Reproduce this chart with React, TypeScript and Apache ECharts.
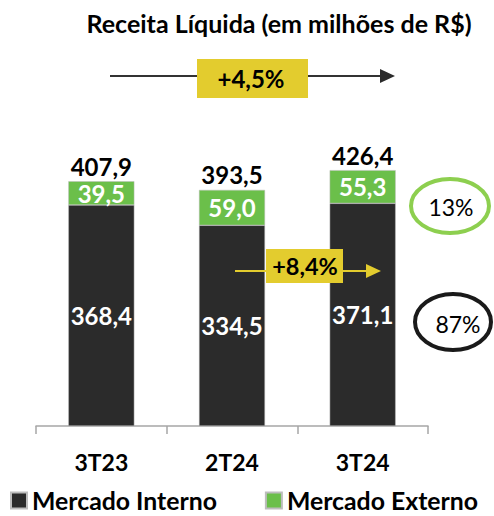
import React, { useEffect, useRef } from "react";
import * as echarts from "echarts";

const categories = ["3T23", "2T24", "3T24"];
const mercadoInterno = [368.4, 334.5, 371.1];
const mercadoExterno = [39.5, 59.0, 55.3];
const seriesNames = ["Mercado Interno", "Mercado Externo"];

const FONT = "Lato, 'Open Sans', sans-serif";
const fmt = (v: number) => v.toFixed(1).replace(".", ",");

export default function App() {
  const ref = useRef<HTMLDivElement>(null);
  useEffect(() => {
    if (!ref.current) return;
    const chart = echarts.init(ref.current, null, { renderer: "svg" });
    const totals = mercadoInterno.map((v, i) => +(v + mercadoExterno[i]).toFixed(1));
    const last = totals.length - 1;
    const growthYoY = (totals[last] / totals[0] - 1) * 100;
    const growthQoQ = (totals[last] / totals[last - 1] - 1) * 100;
    const shareExt = Math.round((mercadoExterno[last] / totals[last]) * 100);
    const shareInt = 100 - shareExt;
    const pct = (v: number) => "+" + v.toFixed(1).replace(".", ",") + "%";

    const numLabel = (pos: string, color: string) => ({
      show: true,
      position: pos,
      color,
      fontFamily: FONT,
      fontWeight: "bold",
      fontSize: 24,
      formatter: (p: any) => fmt(p.value),
    });

    chart.setOption({
      animation: false,
      grid: { left: 36, right: 66, top: 126, bottom: 90 },
      legend: {
        data: seriesNames,
        left: 10,
        top: 488,
        padding: 0,
        icon: "rect",
        itemWidth: 16,
        itemHeight: 16,
        itemGap: 48,
        textStyle: { fontFamily: FONT, fontWeight: "bold", fontSize: 24.8, color: "#000", lineHeight: 24 },
      },
      xAxis: {
        type: "category",
        data: categories,
        axisLine: { lineStyle: { color: "#A6A6A6", width: 1.5 } },
        axisTick: { show: true, length: 8, lineStyle: { color: "#A6A6A6", width: 1.5 } },
        axisLabel: { margin: 24, fontFamily: FONT, fontWeight: "bold", fontSize: 23, color: "#000" },
      },
      yAxis: { type: "value", min: 0, max: 500, show: false, splitLine: { show: false } },
      series: [
        {
          name: seriesNames[0],
          type: "bar",
          stack: "total",
          barWidth: 66,
          data: mercadoInterno,
          itemStyle: { color: "#2B2B2B", borderColor: "#BDBDBD", borderWidth: 0.5 },
          label: numLabel("inside", "#fff"),
        },
        {
          name: seriesNames[1],
          type: "bar",
          stack: "total",
          barWidth: 66,
          data: mercadoExterno,
          itemStyle: { color: "#6BBF4A", borderColor: "#BDBDBD", borderWidth: 0.5 },
          label: numLabel("inside", "#fff"),
        },
        {
          name: "Total",
          type: "bar",
          barWidth: 66,
          barGap: "-100%",
          silent: true,
          data: totals,
          itemStyle: { color: "rgba(0,0,0,0)" },
          label: { ...numLabel("top", "#000"), distance: 3 },
          z: 1,
        },
      ],
      graphic: [
        {
          type: "text",
          x: 279,
          y: 23,
          style: {
            text: "Receita Líquida (em milhões de R$)",
            fontFamily: FONT,
            fontWeight: "bold",
            fontSize: 25,
            fill: "#000",
            textAlign: "center",
            textVerticalAlign: "middle",
          },
        },
        // top arrow
        { type: "line", shape: { x1: 110, y1: 76, x2: 382, y2: 76 }, style: { stroke: "#333", lineWidth: 2 } },
        { type: "polygon", shape: { points: [[380, 69], [395, 76], [380, 83]] }, style: { fill: "#2B2B2B" } },
        { type: "rect", shape: { x: 197, y: 59, width: 111, height: 39 }, style: { fill: "#E3CC2E" } },
        {
          type: "text",
          x: 251,
          y: 78.5,
          style: {
            text: pct(growthYoY),
            fontFamily: FONT,
            fontWeight: "bold",
            fontSize: 24,
            fill: "#000",
            textAlign: "center",
            textVerticalAlign: "middle",
          },
        },
        // second arrow
        { type: "line", z: 10, shape: { x1: 235, y1: 271, x2: 368, y2: 271 }, style: { stroke: "#E3CC2E", lineWidth: 2 } },
        { type: "polygon", z: 10, shape: { points: [[366, 264], [381, 271], [366, 278]] }, style: { fill: "#E3CC2E" } },
        { type: "rect", z: 10, shape: { x: 266, y: 249, width: 77, height: 34 }, style: { fill: "#E3CC2E" } },
        {
          type: "text",
          z: 11,
          x: 305,
          y: 266,
          style: {
            text: pct(growthQoQ),
            fontFamily: FONT,
            fontWeight: "bold",
            fontSize: 23.5,
            fill: "#000",
            textAlign: "center",
            textVerticalAlign: "middle",
          },
        },
        // share ellipses
        { type: "ellipse", shape: { cx: 450, cy: 206, rx: 39, ry: 27 }, style: { fill: "#fff", stroke: "#8DCF4F", lineWidth: 4 } },
        {
          type: "text",
          x: 451,
          y: 207,
          style: {
            text: shareExt + "%",
            fontFamily: FONT,
            fontSize: 23,
            fill: "#000",
            textAlign: "center",
            textVerticalAlign: "middle",
          },
        },
        { type: "ellipse", shape: { cx: 453, cy: 322, rx: 38, ry: 28 }, style: { fill: "#fff", stroke: "#1A1A1A", lineWidth: 4 } },
        {
          type: "text",
          x: 458,
          y: 324,
          style: {
            text: shareInt + "%",
            fontFamily: FONT,
            fontSize: 23,
            fill: "#000",
            textAlign: "center",
            textVerticalAlign: "middle",
          },
        },
      ],
    });
    return () => chart.dispose();
  }, []);
  return <div ref={ref} style={{ width: 494, height: 516, position: "absolute", left: 0, top: 0 }} />;
}
